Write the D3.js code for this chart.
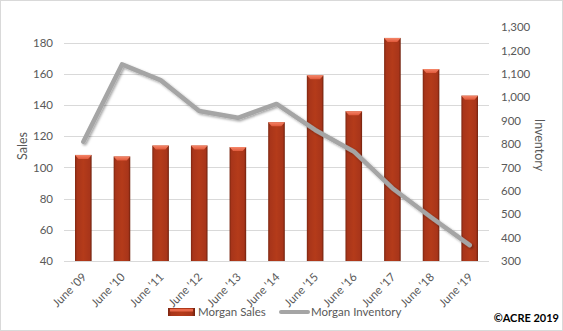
<!DOCTYPE html>
<html><head><meta charset="utf-8">
<script src="https://cdn.jsdelivr.net/npm/d3@7"></script>
<style>
html,body{margin:0;padding:0;background:#fff;}
svg{display:block;font-family:Lato, "Open Sans", sans-serif;}
</style></head>
<body>
<svg id="chart" width="563" height="331"></svg>
<script>
const categories = ["June '09","June '10","June '11","June '12","June '13","June '14","June '15","June '16","June '17","June '18","June '19"];
const sales = [108,107,114,114,113,129,159,136,183,163,146];
const inventory = [810,1140,1073,941,912,971,860,768,611,487,368];
const salesTicks = [40,60,80,100,120,140,160,180];
const inventoryTicks = [300,400,500,600,700,800,900,1000,1100,1200,1300];
const seriesNames = ["Morgan Sales","Morgan Inventory"];

const svg = d3.select("#chart");
const W = 563, H = 331;
const plot = {left:64, right:489, top:27, bottom:261};
const textColor = "#595959";

const defs = svg.append("defs");
const g1 = defs.append("linearGradient").attr("id","barGrad").attr("x1","0").attr("x2","1").attr("y1","0").attr("y2","0");
[[0,"#7c2610"],[0.12,"#a8351a"],[0.5,"#b43b1a"],[0.88,"#a8351a"],[1,"#6e210d"]].forEach(s=>g1.append("stop").attr("offset",s[0]).attr("stop-color",s[1]));
const g2 = defs.append("linearGradient").attr("id","topGrad").attr("x1","0").attr("x2","0").attr("y1","0").attr("y2","1");
[[0,"#f5876a"],[1,"#e0583a"]].forEach(s=>g2.append("stop").attr("offset",s[0]).attr("stop-color",s[1]));
const f = defs.append("filter").attr("id","shadow").attr("x","-10%").attr("y","-10%").attr("width","130%").attr("height","130%");
f.append("feDropShadow").attr("dx",1.5).attr("dy",1.5).attr("stdDeviation",1).attr("flood-color","#000").attr("flood-opacity",0.35);

// border
svg.append("rect").attr("x",0.5).attr("y",0.5).attr("width",W-1).attr("height",H-1)
  .attr("fill","#fff").attr("stroke","#d9d9d9").attr("stroke-width",1);

const x = d3.scaleBand().domain(categories).range([plot.left, plot.right]).paddingInner(0.57).paddingOuter(0.285);
const yL = d3.scaleLinear().domain([40,190]).range([plot.bottom, plot.top]);
const yR = d3.scaleLinear().domain([300,1300]).range([plot.bottom, plot.top]);

// gridlines
svg.append("g").selectAll("line").data(salesTicks).join("line")
  .attr("x1",plot.left).attr("x2",plot.right)
  .attr("y1",d=>Math.round(yL(d))+0.5).attr("y2",d=>Math.round(yL(d))+0.5)
  .attr("stroke","#d9d9d9").attr("stroke-width",1);

// left axis
const axL = d3.axisLeft(yL).tickValues(salesTicks).tickSize(0).tickPadding(11);
const gL = svg.append("g").attr("transform",`translate(${plot.left},0)`).call(axL);
gL.select(".domain").remove();
gL.selectAll("text").attr("fill",textColor).attr("font-size","11.5px").attr("font-family","Lato");

// right axis
const axR = d3.axisRight(yR).tickValues(inventoryTicks).tickSize(0).tickPadding(12).tickFormat(d3.format(","));
const gR = svg.append("g").attr("transform",`translate(${plot.right},0)`).call(axR);
gR.select(".domain").remove();
gR.selectAll("text").attr("fill",textColor).attr("font-size","11.5px").attr("font-family","Lato");

// bars
const bars = svg.append("g");
categories.forEach((c,i)=>{
  const bx = x(c), bw = x.bandwidth(), by = yL(sales[i]);
  bars.append("rect").attr("x",bx).attr("y",by).attr("width",bw).attr("height",yL(40)-by).attr("fill","url(#barGrad)");
  bars.append("path").attr("d",`M${bx},${by}L${bx+bw},${by}L${bx+bw-3.5},${by+4}L${bx+3.5},${by+4}Z`).attr("fill","url(#topGrad)");
});

// line
const line = d3.line().x((d,i)=>x(categories[i])+x.bandwidth()/2).y(d=>yR(d));
svg.append("path").datum(inventory).attr("d",line).attr("fill","none")
  .attr("stroke","#a5a5a5").attr("stroke-width",4.5).attr("stroke-linejoin","round").attr("stroke-linecap","round")
  .attr("filter","url(#shadow)");

// x labels
svg.append("g").selectAll("text").data(categories).join("text")
  .attr("transform",d=>`translate(${x(d)+x.bandwidth()/2+1},${plot.bottom+14}) rotate(-45)`)
  .attr("text-anchor","end").attr("dy","0.35em")
  .attr("fill",textColor).attr("font-size","11.5px").text(d=>d);

// axis titles
svg.append("text").attr("transform","translate(27,146) rotate(-90)").attr("text-anchor","middle")
  .attr("fill",textColor).attr("font-size","12.5px").text("Sales");
svg.append("text").attr("transform","translate(535,145) rotate(90)").attr("text-anchor","middle")
  .attr("fill",textColor).attr("font-size","12.5px").text("Inventory");

// legend
const lg = svg.append("g");
lg.append("rect").attr("x",168).attr("y",308).attr("width",27).attr("height",8).attr("fill","url(#barGrad)");
lg.append("rect").attr("x",170).attr("y",309).attr("width",23).attr("height",2.5).attr("fill","#e8684a");
lg.append("text").attr("x",198).attr("y",312).attr("dy","0.35em").attr("fill",textColor).attr("font-size","11.5px").text(seriesNames[0]);
lg.append("line").attr("x1",281).attr("x2",308).attr("y1",312).attr("y2",312).attr("stroke","#a5a5a5").attr("stroke-width",4).attr("stroke-linecap","round");
lg.append("text").attr("x",311).attr("y",312).attr("dy","0.35em").attr("fill",textColor).attr("font-size","11.5px").text(seriesNames[1]);

// copyright
svg.append("text").attr("x",559).attr("y",318).attr("dy","0.35em").attr("text-anchor","end")
  .attr("fill","#000").attr("font-weight","bold").attr("font-size","11px").text("©ACRE 2019");
</script>
</body></html>
